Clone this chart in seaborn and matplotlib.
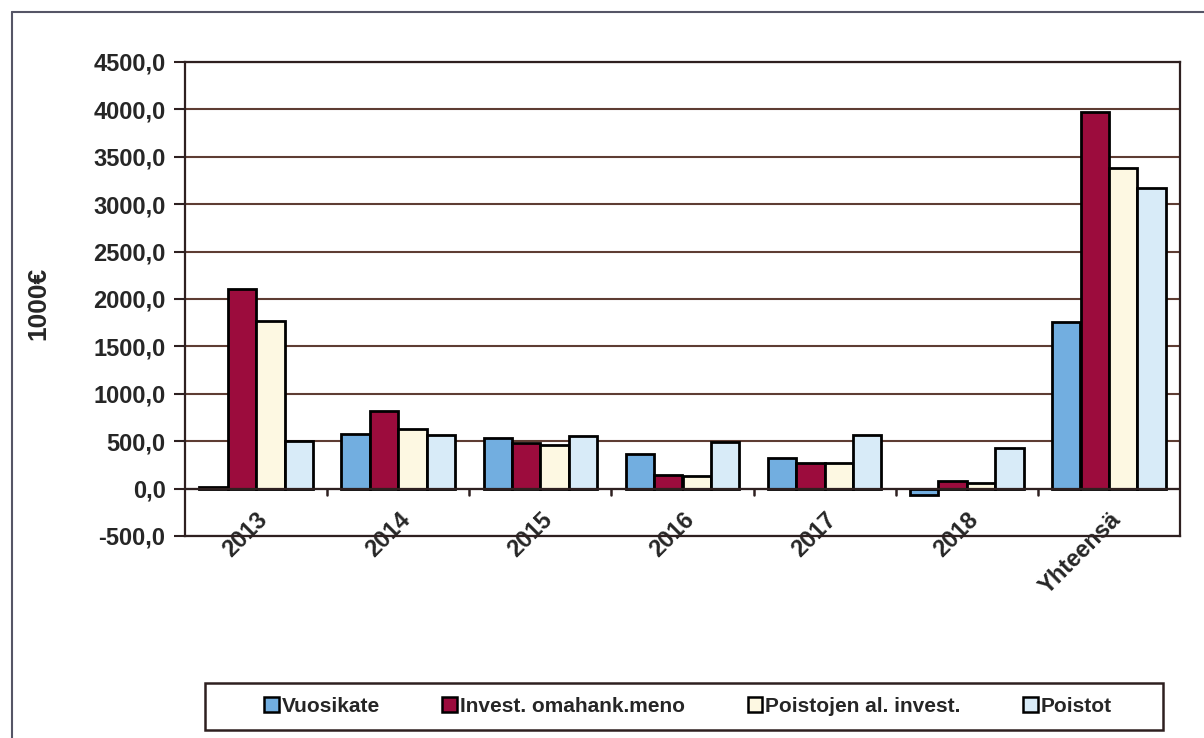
import numpy as np
import pandas as pd
import matplotlib
matplotlib.use("Agg")
import matplotlib.pyplot as plt
from matplotlib.patches import Patch, Rectangle
from matplotlib.lines import Line2D
from matplotlib.ticker import FuncFormatter, MultipleLocator
import seaborn as sns

# Categories and series (1000 €)
years = ["2013", "2014", "2015", "2016", "2017", "2018", "Yhteensä"]
vuosikate = [12, 575, 530, 360, 320, -70, 1760]
invest_menot = [2110, 815, 485, 145, 270, 85, 3970]
poistojen_al = [1765, 625, 455, 135, 270, 55, 3380]
poistot = [500, 570, 550, 490, 565, 430, 3170]

series_names = ["Vuosikate", "Invest. omahank.meno", "Poistojen al. invest.", "Poistot"]
series_values = [vuosikate, invest_menot, poistojen_al, poistot]
colors = ["#72aee0", "#9c0c3d", "#fdf8e2", "#d8ebf8"]

df = pd.DataFrame(
    [(y, s, v) for s, vals in zip(series_names, series_values) for y, v in zip(years, vals)],
    columns=["vuosi", "sarja", "arvo"],
)

sns.set_theme(style="white")
plt.rcParams["font.family"] = ["Liberation Sans", "DejaVu Sans"]

fig = plt.figure(figsize=(12.04, 7.38), dpi=100)
ax = fig.add_axes([185 / 1204, 1 - 536 / 738, 995 / 1204, 474 / 738])

sns.barplot(
    data=df, x="vuosi", y="arvo", hue="sarja", order=years, hue_order=series_names,
    palette=colors, width=0.8, edgecolor="black", linewidth=2, saturation=1,
    legend=False, ax=ax,
)

grid_col = "#5e3d33"
ax.set_ylim(-500, 4500)
ax.set_xlim(-0.5, len(years) - 0.5)
ax.yaxis.set_major_locator(MultipleLocator(500))
ax.yaxis.set_major_formatter(FuncFormatter(lambda v, _: f"{v:.1f}".replace(".", ",")))
ax.set_axisbelow(True)
ax.grid(axis="y", color=grid_col, linewidth=1.5)
ax.grid(axis="x", visible=False)

for side in ["left", "right", "top", "bottom"]:
    ax.spines[side].set_visible(True)
    ax.spines[side].set_color("#2e2020")
    ax.spines[side].set_linewidth(1.6)

# category axis drawn at zero with tick marks between groups
ax.axhline(0, color="#2e2020", linewidth=1.6, zorder=1)
for b in np.arange(0.5, len(years) - 1):
    ax.plot([b, b], [0, -70], color="#2e2020", linewidth=1.8, zorder=1)

ax.tick_params(axis="y", which="major", left=True, length=8, width=1.5, color="#2e2020",
               labelsize=17, pad=6)
ax.tick_params(axis="x", bottom=False, labelsize=17, pad=-26)
for lab in ax.get_yticklabels():
    lab.set_fontweight("bold")
ax.set_xticks(range(len(years)))
ax.set_xticklabels(years, rotation=45, ha="right", rotation_mode="anchor",
                   fontweight="bold", fontsize=17)
ax.set_xlabel("")
ax.set_ylabel("1000€", fontsize=19, fontweight="bold")
ax.yaxis.set_label_coords((50 - 185) / 995, 0.49)

# legend in its own box under the chart
handles = [Patch(facecolor=c, edgecolor="black", linewidth=1.8) for c in colors]
fig.legend(
    handles, series_names, loc="center", bbox_to_anchor=(688 / 1204, 1 - 706 / 738),
    ncol=4, frameon=False, prop={"size": 15, "weight": "bold"},
    handlelength=0.7, handleheight=0.7, handletextpad=0.15, columnspacing=3.0,
)
fig.add_artist(Rectangle((205 / 1204, 1 - 730 / 738), 958 / 1204, 47 / 738,
                         transform=fig.transFigure, fill=False,
                         edgecolor="#2e2020", linewidth=1.8))

# outer chart border
fig.add_artist(Line2D([12 / 1204, 12 / 1204], [0, 1 - 12 / 738], transform=fig.transFigure,
                      color="#555566", linewidth=1.5))
fig.add_artist(Line2D([12 / 1204, 1], [1 - 12 / 738, 1 - 12 / 738], transform=fig.transFigure,
                      color="#555566", linewidth=1.5))

fig.savefig("out.png", dpi=100)
